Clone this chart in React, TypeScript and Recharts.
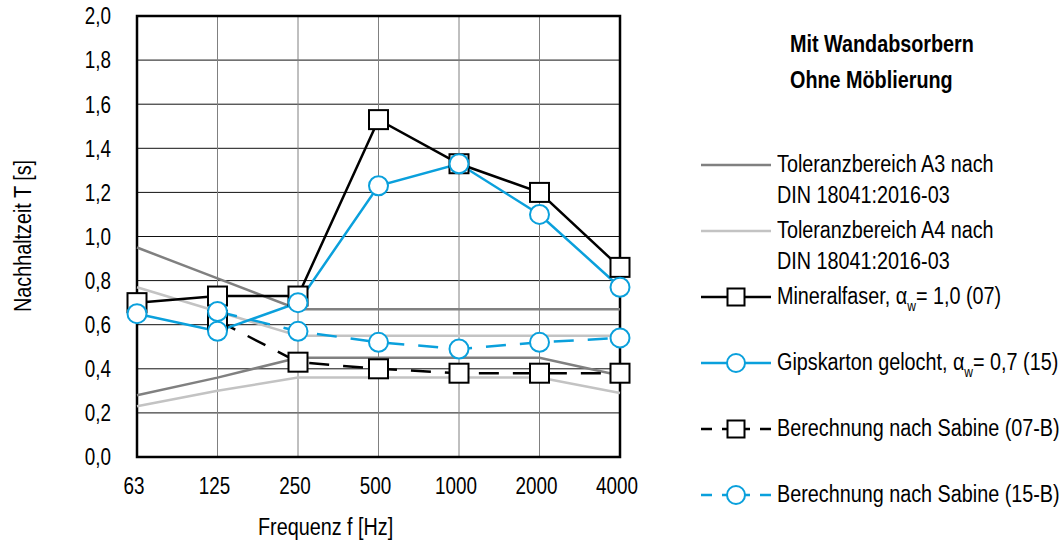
import { CartesianGrid, Line, LineChart, ReferenceArea, XAxis, YAxis } from 'recharts'

const frequencies = ['63', '125', '250', '500', '1000', '2000', '4000']
const mineralfaser = [0.7, 0.73, 0.73, 1.53, 1.33, 1.2, 0.86]
const gipskarton = [0.65, 0.57, 0.7, 1.23, 1.33, 1.1, 0.77]
const sabine07 = [null, 0.62, 0.43, 0.4, 0.38, 0.38, 0.38]
const sabine15 = [null, 0.66, 0.57, 0.52, 0.49, 0.52, 0.54]
const a3Upper = [0.95, 0.81, 0.67, 0.67, 0.67, 0.67, 0.67]
const a3Lower = [0.28, 0.36, 0.45, 0.45, 0.45, 0.45, 0.37]
const a4Upper = [0.77, 0.66, 0.55, 0.55, 0.55, 0.55, 0.55]
const a4Lower = [0.23, 0.3, 0.36, 0.36, 0.36, 0.36, 0.29]
const yTicks = [0, 0.2, 0.4, 0.6, 0.8, 1.0, 1.2, 1.4, 1.6, 1.8, 2.0]

// no narrow face installed, so regular Liberation Sans gets squeezed horizontally
const FONT = "'Liberation Sans', Arial, sans-serif"
const FS = 23
const NARROW = 0.82
const NARROW_TEXT = 0.86
const BLUE = '#0aa0dc'
const DARK_GREY = '#808080'
const LIGHT_GREY = '#c3c3c3'

const data = frequencies.map((f, i) => ({
  f,
  mineralfaser: mineralfaser[i],
  gipskarton: gipskarton[i],
  sabine07: sabine07[i],
  sabine15: sabine15[i],
  a3Upper: a3Upper[i],
  a3Lower: a3Lower[i],
  a4Upper: a4Upper[i],
  a4Lower: a4Lower[i],
}))

const fmt = (v: number) => v.toFixed(1).replace('.', ',')

function XTick(props: any) {
  const { x, payload } = props
  return (
    <text transform={`translate(${x - 3},494) scale(${NARROW},1)`} textAnchor="middle" fontSize={FS} fontFamily={FONT} fill="#000">
      {payload.value}
    </text>
  )
}

function YTick(props: any) {
  const { y, payload } = props
  return (
    <text transform={`translate(111,${y + 8.3}) scale(${NARROW},1)`} textAnchor="end" fontSize={FS} fontFamily={FONT} fill="#000">
      {fmt(payload.value)}
    </text>
  )
}

function squareDot(props: any) {
  const { cx, cy, index } = props
  if (cx == null || cy == null || props.value == null) return <g key={index} />
  return <rect key={index} x={cx - 9.5} y={cy - 9.5} width={19} height={19} fill="#fff" stroke="#000" strokeWidth={2} />
}

function circleDot(props: any) {
  const { cx, cy, index } = props
  if (cx == null || cy == null || props.value == null) return <g key={index} />
  return <circle key={index} cx={cx} cy={cy} r={9.5} fill="#fff" stroke={BLUE} strokeWidth={2} />
}

function Narrow({ children, bold }: { children: any; bold?: boolean }) {
  return (
    <span
      style={{
        display: 'inline-block',
        transform: `scaleX(${NARROW_TEXT})`,
        transformOrigin: 'left center',
        whiteSpace: 'nowrap',
        fontWeight: bold ? 'bold' : 'normal',
      }}
    >
      {children}
    </span>
  )
}

function LegendIcon({ color, dashed, marker }: { color: string; dashed?: boolean; marker?: 'square' | 'circle' }) {
  return (
    <svg width={70} height={24} style={{ position: 'absolute', left: 0, top: -12 }}>
      <line x1={0} y1={12} x2={70} y2={12} stroke={color} strokeWidth={2.5} strokeDasharray={dashed ? '11 10 28 10 11' : undefined} />
      {marker === 'square' && <rect x={26.5} y={3.5} width={17} height={17} fill="#fff" stroke="#000" strokeWidth={2} />}
      {marker === 'circle' && <circle cx={35} cy={12} r={9} fill="#fff" stroke={BLUE} strokeWidth={2} />}
    </svg>
  )
}

function Alpha({ value }: { value: string }) {
  return (
    <>
      α<span style={{ fontSize: 14, position: 'relative', top: 7 }}>w</span>= {value}
    </>
  )
}

const legendRows: Array<{ y: number; icon: any; lines: any[] }> = [
  { y: 165, icon: <LegendIcon color={DARK_GREY} />, lines: ['Toleranzbereich A3 nach', 'DIN 18041:2016-03'] },
  { y: 231, icon: <LegendIcon color={LIGHT_GREY} />, lines: ['Toleranzbereich A4 nach', 'DIN 18041:2016-03'] },
  { y: 297, icon: <LegendIcon color="#000" marker="square" />, lines: [<>Mineralfaser, <Alpha value="1,0 (07)" /></>] },
  { y: 363, icon: <LegendIcon color={BLUE} marker="circle" />, lines: [<>Gipskarton gelocht, <Alpha value="0,7 (15)" /></>] },
  { y: 429, icon: <LegendIcon color="#000" marker="square" dashed />, lines: ['Berechnung nach Sabine (07-B)'] },
  { y: 495, icon: <LegendIcon color={BLUE} marker="circle" dashed />, lines: ['Berechnung nach Sabine (15-B)'] },
]

export default function App() {
  return (
    <div style={{ position: 'absolute', left: 0, top: 0, width: 1061, height: 543, background: '#fff', fontFamily: FONT, fontSize: FS }}>
      <LineChart width={1061} height={543} data={data} margin={{ top: 16, right: 441, left: 77, bottom: 56 }}>
        <CartesianGrid vertical={false} stroke="#111" strokeWidth={1} />
        <CartesianGrid horizontal={false} stroke={DARK_GREY} strokeWidth={1} />
        <XAxis dataKey="f" height={30} axisLine={false} tickLine={false} tickSize={0} tick={<XTick />} interval={0} />
        <YAxis domain={[0, 2]} ticks={yTicks} width={60} axisLine={false} tickLine={false} tickSize={0} tick={<YTick />} />
        <ReferenceArea x1="63" x2="4000" y1={0} y2={2} fill="none" stroke="#000" strokeWidth={2.5} fillOpacity={0} />
        <Line dataKey="a3Upper" stroke={DARK_GREY} strokeWidth={2.5} dot={false} isAnimationActive={false} />
        <Line dataKey="a3Lower" stroke={DARK_GREY} strokeWidth={2.5} dot={false} isAnimationActive={false} />
        <Line dataKey="a4Upper" stroke={LIGHT_GREY} strokeWidth={2.5} dot={false} isAnimationActive={false} />
        <Line dataKey="a4Lower" stroke={LIGHT_GREY} strokeWidth={2.5} dot={false} isAnimationActive={false} />
        <Line dataKey="mineralfaser" stroke="#000" strokeWidth={2.5} dot={squareDot} isAnimationActive={false} />
        <Line dataKey="sabine07" stroke="#000" strokeWidth={2.5} strokeDasharray="20 14" dot={squareDot} isAnimationActive={false} />
        <Line dataKey="gipskarton" stroke={BLUE} strokeWidth={2.5} dot={circleDot} isAnimationActive={false} />
        <Line dataKey="sabine15" stroke={BLUE} strokeWidth={2.5} strokeDasharray="20 14" dot={circleDot} isAnimationActive={false} />
      </LineChart>

      <div style={{ position: 'absolute', left: 258, top: 511, lineHeight: '32px' }}>
        <Narrow>Frequenz f [Hz]</Narrow>
      </div>

      <div
        style={{
          position: 'absolute',
          left: 23,
          top: 236,
          transform: `translate(-50%, -50%) rotate(-90deg) scaleX(${NARROW_TEXT})`,
          whiteSpace: 'nowrap',
          lineHeight: '26px',
        }}
      >
        Nachhaltzeit T [s]
      </div>

      <div style={{ position: 'absolute', left: 790, top: 26, lineHeight: '36px' }}>
        <div><Narrow bold>Mit Wandabsorbern</Narrow></div>
        <div><Narrow bold>Ohne Möblierung</Narrow></div>
      </div>

      {legendRows.map((row, i) => (
        <div key={i} style={{ position: 'absolute', left: 701, top: row.y }}>
          {row.icon}
          <div style={{ position: 'absolute', left: 76, top: -16 }}>
            {row.lines.map((l, j) => (
              <div key={j} style={{ height: 31, lineHeight: '31px' }}>
                <Narrow>{l}</Narrow>
              </div>
            ))}
          </div>
        </div>
      ))}
    </div>
  )
}
